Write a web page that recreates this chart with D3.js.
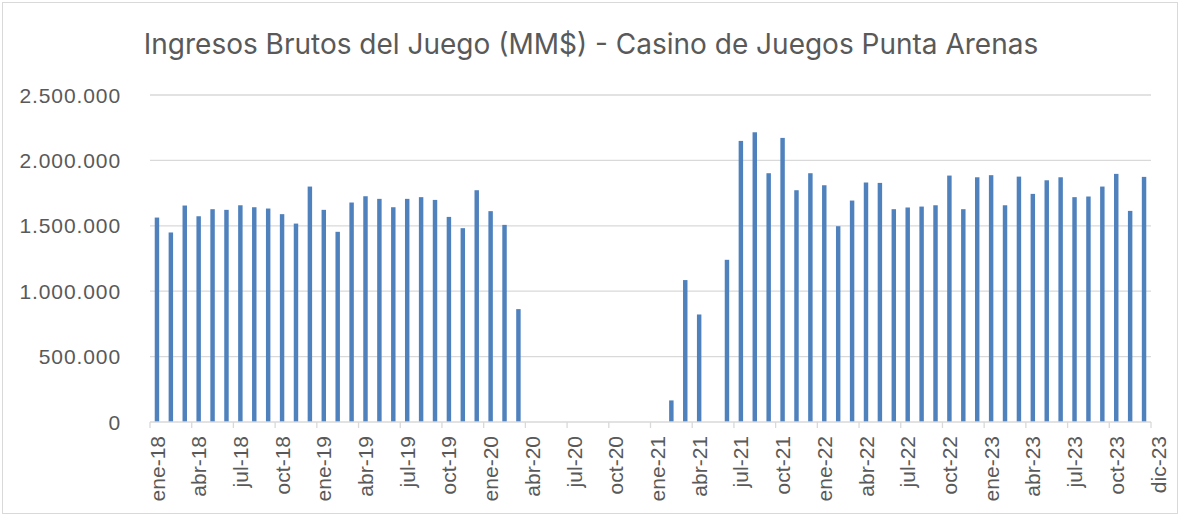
<!DOCTYPE html>
<html>
<head>
<meta charset="utf-8">
<style>
  body { margin: 0; background: #fff; }
  text { font-family: "Liberation Sans", Arial, sans-serif; fill: #595959; }
</style>
</head>
<body>
<svg></svg>
<script src="https://d3js.org/d3.v7.min.js"></script>
<script>

var monthNames = ["ene", "feb", "mar", "abr", "may", "jun", "jul", "ago", "sep", "oct", "nov", "dic"];
var years = ["18", "19", "20", "21", "22", "23"];

// ingresos brutos mensuales (MM$), ene-18 .. dic-23
var values2018 = [1563000, 1449000, 1655000, 1573000, 1627000, 1622000, 1657000, 1642000, 1632000, 1589000, 1517000, 1800000];
var values2019 = [1622000, 1454000, 1678000, 1726000, 1706000, 1642000, 1706000, 1719000, 1698000, 1568000, 1482000, 1772000];
var values2020 = [1612000, 1507000, 863000, 0, 0, 0, 0, 0, 0, 0, 0, 0];
var values2021 = [0, 165000, 1085000, 822000, 0, 1240000, 2149000, 2215000, 1902000, 2172000, 1772000, 1902000];
var values2022 = [1810000, 1497000, 1693000, 1831000, 1828000, 1627000, 1640000, 1647000, 1657000, 1884000, 1627000, 1871000];
var values2023 = [1887000, 1657000, 1876000, 1744000, 1848000, 1871000, 1719000, 1724000, 1800000, 1897000, 1614000, 1874000];

var yTicks = [0, 500000, 1000000, 1500000, 2000000, 2500000];

var months = [];
years.forEach(function(y) {
  monthNames.forEach(function(m) { months.push(m + "-" + y); });
});
var values = [].concat(values2018, values2019, values2020, values2021, values2022, values2023);
var data = months.map(function(m, i) { return {month: m, value: values[i]}; });

var width = 1180, height = 516;
var plot = {left: 150, right: 1151, top: 95, bottom: 422};

var svg = d3.select("svg")
    .attr("width", width)
    .attr("height", height);

// chart border
svg.append("rect")
    .attr("x", 2.5).attr("y", 2.5)
    .attr("width", width - 5).attr("height", height - 5)
    .attr("fill", "#fff")
    .attr("stroke", "#d9d9d9");

var x = d3.scaleBand()
    .domain(months)
    .range([plot.left, plot.right])
    .paddingInner(0.68)
    .paddingOuter(0.34);

var y = d3.scaleLinear()
    .domain([0, 2500000])
    .range([plot.bottom, plot.top]);

var fmt = function(v) { return d3.format(",")(v).replace(/,/g, "."); };

// gridlines
svg.append("g")
  .selectAll("line")
  .data(yTicks.slice(1))
  .enter().append("line")
    .attr("x1", plot.left).attr("x2", plot.right)
    .attr("y1", function(d) { return y(d); })
    .attr("y2", function(d) { return y(d); })
    .attr("stroke", "#d9d9d9")
    .attr("stroke-width", 1.3);

// y labels
svg.append("g")
  .selectAll("text")
  .data(yTicks)
  .enter().append("text")
    .attr("x", 121)
    .attr("y", function(d) { return y(d); })
    .attr("dy", "0.36em")
    .attr("text-anchor", "end")
    .style("font-size", "21px")
    .style("letter-spacing", "0.9px")
    .text(fmt);

// bars
svg.append("g")
  .selectAll("rect")
  .data(data.filter(function(d) { return d.value > 0; }))
  .enter().append("rect")
    .attr("x", function(d) { return x(d.month); })
    .attr("y", function(d) { return y(d.value); })
    .attr("width", x.bandwidth())
    .attr("height", function(d) { return y(0) - y(d.value); })
    .attr("fill", "#4f81bd");

// x axis
svg.append("line")
    .attr("x1", plot.left).attr("x2", plot.right)
    .attr("y1", plot.bottom).attr("y2", plot.bottom)
    .attr("stroke", "#d9d9d9")
    .attr("stroke-width", 1.3);

var gap = (x.step() - x.bandwidth()) / 2;
var tickIdx = d3.range(0, 73, 3);
svg.append("g")
  .selectAll("line")
  .data(tickIdx)
  .enter().append("line")
    .attr("x1", function(i) { return i < 72 ? x(months[i]) - gap : plot.right; })
    .attr("x2", function(i) { return i < 72 ? x(months[i]) - gap : plot.right; })
    .attr("y1", plot.bottom)
    .attr("y2", plot.bottom + 6)
    .attr("stroke", "#d9d9d9")
    .attr("stroke-width", 1.3);

var labelIdx = d3.range(0, 72, 3).concat([71]);
svg.append("g")
  .selectAll("text")
  .data(labelIdx)
  .enter().append("text")
    .attr("transform", function(i) {
      var cx = x(months[i]) + x.bandwidth() / 2 + (i === 71 ? x.step() : 0);
      return "translate(" + cx + "," + 436 + ") rotate(-90)";
    })
    .attr("dy", "0.36em")
    .attr("text-anchor", "end")
    .style("font-size", "21px")
    .text(function(i) { return months[i]; });

// title
svg.append("text")
    .attr("x", 591)
    .attr("y", 54)
    .attr("text-anchor", "middle")
    .style("font-family", "Inter, 'Open Sans', sans-serif")
    .style("font-size", "28px")
    .text("Ingresos Brutos del Juego (MM$) - Casino de Juegos Punta Arenas");

</script>
</body>
</html>
